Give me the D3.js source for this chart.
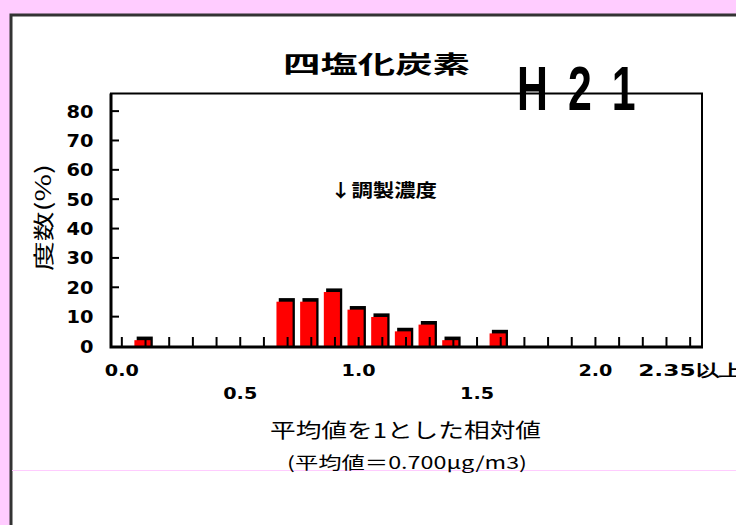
<!DOCTYPE html>
<html><head><meta charset="utf-8">
<script src="https://cdn.jsdelivr.net/npm/d3@7"></script>
<style>
html,body{margin:0;padding:0;background:#ffccff;}
svg{display:block;}
</style></head>
<body>
<svg id="chart" width="736" height="525"></svg>
<script>
// ---- data ----
const categories = ["0.0","0.1","0.2","0.3","0.4","0.5","0.6","0.7","0.8","0.9","1.0","1.1","1.2","1.3","1.4","1.5","1.6","1.7","1.8","1.9","2.0","2.1","2.2","2.3","2.35以上"];
const values =     [0, 2.6, 0, 0, 0, 0, 0, 15.7, 15.7, 19.0, 13.0, 10.5, 5.6, 7.9, 2.6, 0, 4.9, 0, 0, 0, 0, 0, 0, 0, 0];
const yTicks = [0,10,20,30,40,50,60,70,80];
const xLabelsRow1 = ["0.0","1.0","2.0","2.35以上"];
const xLabelsRow2 = ["0.5","1.5"];
const title = "四塩化炭素";
const yearLabel = "H 2 1";
const yTitle = "度数(%)";
const xTitle = "平均値を1とした相対値";
const xSubTitle = "(平均値＝0.700μg/m3)";
const annotation = "↓調製濃度";

const svg = d3.select("#chart");
const jp = "'Noto Sans CJK JP', sans-serif";
const num = "'DejaVu Sans', sans-serif";

// panel
svg.append("rect").attr("x",11).attr("y",15).attr("width",800).attr("height",600)
  .attr("fill","#fff").attr("stroke","#333").attr("stroke-width",3);
svg.append("line").attr("x1",12).attr("x2",736).attr("y1",470.5).attr("y2",470.5)
  .attr("stroke","#ffccff").attr("stroke-width",1);

const L = 110, R = 702, T = 93.5, B = 346;
const x = d3.scaleBand().domain(categories).range([L, R]).padding(0);
const y = d3.scaleLinear().domain([0, 86]).range([B, T]);
const bw = x.bandwidth();

// frame top/right
svg.append("path").attr("d",`M${L},${T}H${R}V${B}`).attr("fill","none")
  .attr("stroke","#000").attr("stroke-width",2);

// bars: shadow + red
const data = categories.map((c,i)=>({c, v: values[i]})).filter(d=>d.v>0);
const barW = bw*0.68;
svg.append("g").selectAll("rect").data(data).join("rect")
  .attr("x", d=>x(d.c)+3).attr("width", barW)
  .attr("y", d=>y(d.v)-1.8).attr("height", d=>B - (y(d.v)-1.8))
  .attr("fill","#000");
svg.append("g").selectAll("rect").data(data).join("rect")
  .attr("x", d=>x(d.c)+0.7).attr("width", barW)
  .attr("y", d=>y(d.v)+1.8).attr("height", d=>B - (y(d.v)+1.8))
  .attr("fill","#ff0000");

// x ticks (upward at bin centers)
svg.append("g").selectAll("line").data(categories).join("line")
  .attr("x1", d=>x(d)+bw/2).attr("x2", d=>x(d)+bw/2)
  .attr("y1", B).attr("y2", B-9).attr("stroke","#000").attr("stroke-width",2);

// y ticks inward
svg.append("g").selectAll("line").data(yTicks.filter(t=>t>0)).join("line")
  .attr("x1", L).attr("x2", L+9).attr("y1", d=>y(d)).attr("y2", d=>y(d))
  .attr("stroke","#000").attr("stroke-width",2);

// left and bottom axis thick
svg.append("path").attr("d",`M${L+1},${T}V${B+1}H${R+1}`).attr("fill","none")
  .attr("stroke","#000").attr("stroke-width",3);

// y labels
svg.append("g").selectAll("text").data(yTicks).join("text")
  .attr("x", 93.5).attr("y", d=>y(d)+6.5)
  .attr("text-anchor","end").attr("font-family",num).attr("font-weight","bold")
  .attr("font-size",17)
  .attr("textLength", d=>String(d).length*13.5).attr("lengthAdjust","spacingAndGlyphs")
  .text(d=>d);

// x labels
svg.append("g").selectAll("text").data(xLabelsRow1).join("text")
  .attr("x", d=> d==="2.35以上" ? x(d)+bw/2 - 52 : x(d)+bw/2 - 17)
  .attr("y", 376)
  .attr("font-family",num).attr("font-weight","bold").attr("font-size",16)
  .attr("textLength", d=> d==="2.35以上" ? 104 : 34).attr("lengthAdjust","spacingAndGlyphs")
  .text(d=>d);
svg.append("g").selectAll("text").data(xLabelsRow2).join("text")
  .attr("x", d=>x(d)+bw/2 - 17).attr("y", 399)
  .attr("font-family",num).attr("font-weight","bold").attr("font-size",16)
  .attr("textLength",34).attr("lengthAdjust","spacingAndGlyphs")
  .text(d=>d);

// title
svg.append("text").attr("x",283).attr("y",73).attr("font-family",jp).attr("font-weight","bold")
  .attr("font-size",24).attr("textLength",187).attr("lengthAdjust","spacingAndGlyphs").text(title);

// H21 (narrow, wide-spaced)
svg.append("text").attr("transform","translate(517,110) scale(0.68,1)")
  .attr("font-family","'Liberation Sans', sans-serif")
  .attr("font-weight","bold").attr("font-size",63).attr("letter-spacing",6)
  .text(yearLabel);

// y title
svg.append("text").attr("transform","translate(51,271) rotate(-90)")
  .attr("font-family",jp).attr("font-size",21)
  .attr("textLength",107).attr("lengthAdjust","spacingAndGlyphs").text(yTitle);

// annotation
svg.append("text").attr("x",330).attr("y",197).attr("font-family",jp).attr("font-weight","bold")
  .attr("font-size",18).attr("textLength",107).attr("lengthAdjust","spacingAndGlyphs").text(annotation);

// x titles
svg.append("text").attr("x",270).attr("y",438).attr("font-family",jp)
  .attr("font-size",20).attr("textLength",271).attr("lengthAdjust","spacingAndGlyphs").text(xTitle);
svg.append("text").attr("x",287).attr("y",469).attr("font-family",jp)
  .attr("font-size",17).attr("textLength",240).attr("lengthAdjust","spacingAndGlyphs").text(xSubTitle);
</script>
</body></html>
